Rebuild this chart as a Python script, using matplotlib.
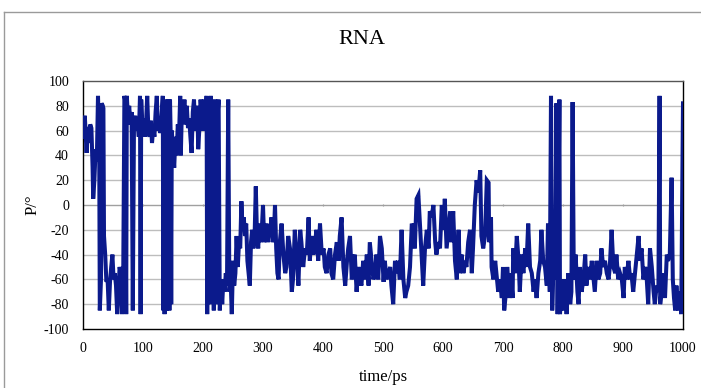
import matplotlib
matplotlib.use("Agg")
import matplotlib.pyplot as plt
from matplotlib.lines import Line2D

title = "RNA"
x_label = "time/ps"
y_label = "P/°"
x_ticks = [0, 100, 200, 300, 400, 500, 600, 700, 800, 900, 1000]
y_ticks = [-100, -80, -60, -40, -20, 0, 20, 40, 60, 80, 100]

# segment 0-162 ps
time_a = [0, 3, 6, 8, 10, 12, 14, 16, 17, 19, 21, 23, 25, 27, 28, 30, 31, 33, 34, 35,
          37, 39, 41, 43, 45, 47, 49, 51, 53, 55, 57, 59, 61, 63, 65, 67, 69, 70, 72, 73,
          75, 77, 79, 81, 83, 85, 87, 89, 91, 93, 95, 96, 97, 99, 101, 103, 105, 107, 109, 111,
          113, 115, 117, 119, 121, 123, 125, 127, 129, 131, 133, 134, 135, 136, 137, 138, 139, 140, 142, 143,
          144, 145, 146, 147, 148, 150, 152, 154, 156, 158, 160]
p_a = [55, 72, 42, 63, 50, 65, 62, 30, 5, 20, 45, 35, 88, 50, -85, -60, 82, 80, 78, -25,
       -40, -62, -60, -85, -62, -50, -40, -60, -55, -65, -88, -70, -50, -55, -88, -60, 88, 85, -88, 88,
       70, 80, 65, 75, -85, 68, 72, 60, 68, 55, 88, -88, 85, 60, 70, 55, 65, 88, 60, 55,
       68, 50, 62, 55, 75, 88, 60, 68, 58, 72, 88, -85, 60, -88, 85, 80, -85, 80, 70, 85,
       -85, 85, 60, -80, 60, 45, 30, 55, 40, 65, 55]

# segment 162-328 ps
time_b = [162, 163, 165, 167, 169, 171, 173, 175, 177, 179, 181, 183, 185, 187, 189, 191, 192, 194, 196, 198,
          200, 202, 204, 206, 207, 209, 211, 213, 214, 216, 218, 220, 222, 224, 226, 228, 230, 232, 234, 236,
          238, 240, 242, 244, 246, 248, 250, 252, 254, 256, 258, 260, 262, 264, 266, 268, 270, 272, 274, 276,
          278, 280, 282, 284, 286, 288, 290, 292, 294, 296, 298, 300, 302, 304, 306, 308, 310, 312, 314, 316,
          318, 320, 322, 324, 326, 328]
p_b = [88, 40, 80, 70, 85, 65, 80, 62, 70, 55, 42, 75, 85, 60, 80, 70, 45, 62, 85, 72,
       60, 85, 70, 88, -88, 85, -80, 88, -60, 80, -85, 85, -80, 70, 85, -85, -60, -80, -60, -70,
       -55, -65, 85, -70, -60, -88, -45, -65, -55, -25, -50, -30, -35, 3, -20, -10, -25, -15, -45, -55,
       -65, -30, -20, -35, -25, 15, -25, -35, -15, -30, -20, 0, -30, -25, -15, -30, -20, -25, -10, -30,
       -25, 0, -35, -55, -60, -30]

# segment 331-495 ps
time_c = [331, 334, 337, 339, 342, 345, 348, 350, 353, 356, 359, 362, 364, 367, 370, 373, 376, 378, 381, 384,
          387, 389, 392, 395, 398, 401, 403, 406, 409, 412, 414, 417, 420, 423, 426, 428, 431, 434, 437, 440,
          442, 445, 448, 451, 453, 456, 459, 462, 464, 467, 470, 473, 476, 478, 481, 484, 487, 489, 492, 495]
p_c = [-15, -40, -55, -50, -25, -35, -70, -60, -20, -40, -65, -20, -30, -50, -35, -40, -10, -45, -25, -40,
       -30, -20, -45, -15, -40, -35, -50, -55, -40, -35, -55, -60, -40, -30, -45, -25, -10, -50, -65, -45,
       -35, -25, -60, -45, -40, -70, -50, -60, -65, -45, -60, -40, -65, -30, -45, -60, -55, -40, -60, -25]

# segment 498-662 ps
time_d = [498, 501, 503, 506, 509, 512, 514, 517, 520, 523, 525, 528, 531, 534, 537, 539, 542, 545, 548, 551,
          553, 556, 559, 562, 564, 567, 570, 573, 576, 578, 581, 584, 587, 589, 592, 595, 598, 601, 603, 606,
          609, 612, 614, 617, 620, 623, 626, 628, 631, 634, 637, 639, 642, 645, 648, 650, 653, 656, 659, 662]
p_d = [-35, -62, -45, -60, -55, -50, -65, -80, -45, -55, -45, -60, -20, -60, -75, -70, -65, -50, -15, -20,
       -35, 5, 8, -20, -40, -65, -35, -20, -35, -5, -10, 0, -30, -40, -30, -35, 0, -20, 5, -35,
       -20, -5, -30, -5, -45, -60, -20, -55, -40, -55, -45, -50, -30, -20, -55, -35, 0, 20, 10, 28]

# segment 664-828 ps
time_e = [664, 667, 670, 673, 676, 677, 680, 681, 684, 687, 689, 692, 695, 698, 700, 702, 705, 707, 711, 713,
          716, 717, 720, 723, 726, 728, 731, 734, 737, 739, 742, 745, 748, 751, 753, 756, 759, 762, 764, 767,
          770, 773, 775, 778, 780, 782, 784, 787, 789, 791, 794, 795, 798, 801, 803, 806, 809, 812, 814, 816,
          818, 821, 824, 826, 828]
p_e = [-25, -35, -25, 20, 18, -30, -10, -50, -60, -45, -55, -70, -60, -75, -50, -85, -70, -50, -75, -55,
       -75, -35, -55, -25, -45, -70, -40, -55, -35, -50, -15, -50, -55, -70, -60, -75, -55, -45, -20, -45,
       -50, -65, -15, -70, 88, -85, -50, -60, 82, -88, 85, -88, -60, -85, -60, -88, -55, -80, -70, 83,
       -60, -40, -70, -80, -50]

# segment 831-1000 ps
time_f = [831, 834, 837, 839, 842, 845, 848, 851, 853, 856, 859, 862, 864, 867, 870, 873, 876, 878, 881, 884,
          887, 889, 892, 895, 898, 901, 903, 906, 909, 912, 914, 917, 920, 923, 926, 928, 931, 934, 937, 939,
          942, 945, 948, 951, 953, 956, 959, 961, 962, 964, 967, 970, 973, 975, 978, 981, 983, 985, 987, 989,
          992, 995, 997, 1000]
p_f = [-70, -60, -40, -65, -50, -60, -45, -60, -70, -45, -60, -55, -35, -50, -45, -55, -60, -50, -20, -50,
       -55, -40, -60, -55, -60, -75, -50, -60, -45, -60, -55, -70, -55, -40, -25, -45, -35, -60, -50, -55,
       -80, -35, -50, -70, -80, -65, -70, 88, -80, -70, -55, -75, -40, -45, -40, 22, -60, -75, -85, -65,
       -85, -70, -88, 82]

time = time_a + time_b + time_c + time_d + time_e + time_f
p_angle = p_a + p_b + p_c + p_d + p_e + p_f

serif = ["Liberation Serif", "DejaVu Serif"]

W, H = 701, 388
fig = plt.figure(figsize=(W / 100, H / 100), dpi=100)
fig.patch.set_facecolor("white")

# outer chart border (Excel-style chart area)
fig.add_artist(Line2D([4 / W, 1.0], [1 - 12 / H, 1 - 12 / H], transform=fig.transFigure,
                      color="#9a9a9a", lw=1.0))
fig.add_artist(Line2D([4 / W, 4 / W], [0.0, 1 - 12 / H], transform=fig.transFigure,
                      color="#9a9a9a", lw=1.0))

left, right, top, bottom = 83, 683, 81, 329
ax = fig.add_axes([left / W, 1 - bottom / H, (right - left) / W, (bottom - top) / H])

ax.set_xlim(0, 1000)
ax.set_ylim(-100, 100)
ax.set_xticks(x_ticks)
ax.set_yticks(y_ticks)
ax.set_xticklabels([str(v) for v in x_ticks], fontfamily=serif, fontsize=10)
ax.set_yticklabels([str(v) for v in y_ticks], fontfamily=serif, fontsize=10)
ax.tick_params(axis="both", length=0, pad=9)
ax.tick_params(axis="y", pad=10)

for yv in y_ticks[1:-1]:
    ax.axhline(yv, color="#bdbdbd" if yv != 0 else "#a0a0a0", lw=1.0, zorder=1)
ax.vlines(x_ticks[1:-1], -1.2, 1.2, color="#a0a0a0", lw=0.8, zorder=1)

ax.plot(time, p_angle, color="#0b1a8c", lw=2.9, solid_joinstyle="miter", zorder=3)

for s in ax.spines.values():
    s.set_color("#000000")
    s.set_linewidth(1.0)
ax.spines["top"].set_color("#555555")

fig.text(362 / W, 1 - 40 / H, title, ha="center", va="center", fontfamily=serif, fontsize=16)
fig.text(383 / W, 1 - 377 / H, x_label, ha="center", va="center", fontfamily=serif, fontsize=12)
fig.text(33 / W, 1 - 205 / H, y_label, ha="center", va="center", rotation=90,
         fontfamily=serif, fontsize=12)

fig.savefig("out.png", dpi=100)
